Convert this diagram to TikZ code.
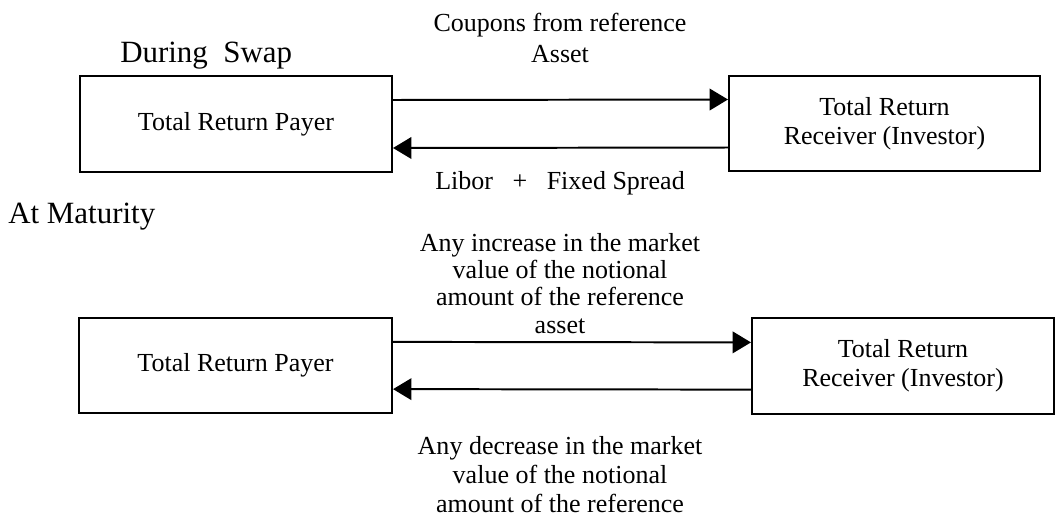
\documentclass[tikz,border=0pt]{standalone}
\usepackage{fontspec}
\setmainfont{Liberation Serif}
\usetikzlibrary{arrows.meta}

\begin{document}
\begin{tikzpicture}[x=0.025cm, y=-0.025cm,
        box/.style={draw, line width=1.4pt, inner sep=0pt, align=center,
            font=\fontsize{18.5}{20.6}\selectfont},
        lbl/.style={inner sep=0pt, align=center, font=\fontsize{18.5}{19.3}\selectfont},
        head/.style={inner sep=0pt, font=\fontsize{22}{24}\selectfont},
        arr/.style={-{Triangle[length=0.46cm, width=0.54cm]}, line width=1.4pt}]
        \useasboundingbox (0, 0) rectangle (1056, 520);

        % during swap
        \node[head, anchor=base west] at (120, 62)  (during) {During\ \ Swap};
        \node[box, minimum width=7.8cm, minimum height=2.4cm] at (236, 124)  (pay1) {Total Return Payer};
        \node[box, minimum width=7.775cm, minimum height=2.375cm] at (884.5, 123.5)  (rec1) {Total Return\\Receiver (Investor)};
        \node[lbl, anchor=base, font=\fontsize{18.5}{22}\selectfont] at (560, 62)  (coupon) {Coupons from reference\\Asset};
        \node[lbl, anchor=base] at (560, 189)  (libor) {Libor\ \ \ +\ \ \ Fixed Spread};

        \draw[arr]  ([yshift=0.6cm]pay1.east) -- ([yshift=0.6cm]rec1.west);
        \draw[arr]  ([yshift=-0.6cm]rec1.west) -- ([yshift=-0.6cm]pay1.east);

        % at maturity
        \node[head, anchor=base west] at (8, 223)  (maturity) {At Maturity};
        \node[box, minimum width=7.825cm, minimum height=2.375cm] at (235.5, 365.5)  (pay2) {Total Return Payer};
        \node[box, minimum width=7.55cm, minimum height=2.4cm] at (903, 366)  (rec2) {Total Return\\Receiver (Investor)};
        \node[lbl, anchor=base] at (560, 333)  (increase) {Any increase in the market\\value of the notional\\amount of the reference\\asset};
        \node[lbl, anchor=base, font=\fontsize{18.5}{20.3}\selectfont] at (560, 512)  (decrease) {Any decrease in the market\\value of the notional\\amount of the reference};

        \draw[arr]  ([yshift=0.59cm]pay2.east) -- ([yshift=0.59cm]rec2.west);
        \draw[arr]  ([yshift=-0.59cm]rec2.west) -- ([yshift=-0.59cm]pay2.east);

    \end{tikzpicture}
\end{document}
